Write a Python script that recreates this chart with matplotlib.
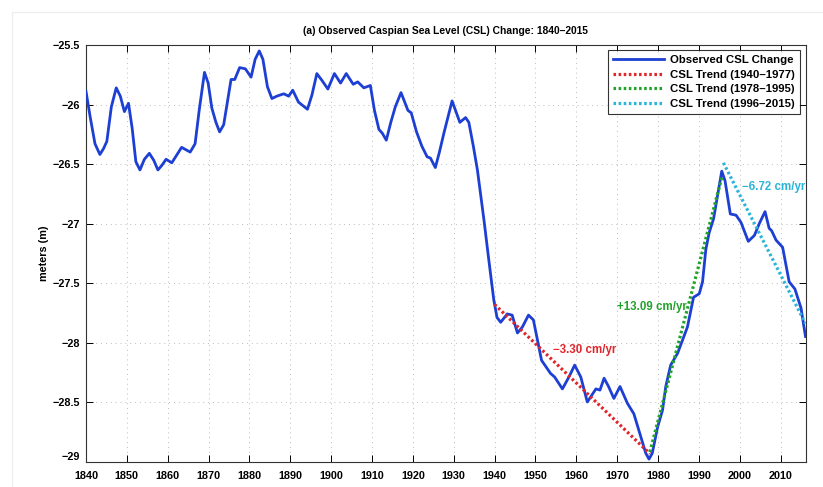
import matplotlib
matplotlib.use("Agg")
import matplotlib.pyplot as plt
import numpy as np
from matplotlib.lines import Line2D
import matplotlib.transforms as mtransforms

FONT = ["Liberation Sans", "DejaVu Sans"]
plt.rcParams["font.family"] = FONT
plt.rcParams["font.weight"] = "bold"

# Observed Caspian Sea level (m)
years = [1840.0, 1841.0, 1842.2, 1843.4, 1844.3, 1845.1, 1846.2, 1847.4, 1848.4, 1849.4,
         1850.4, 1851.3, 1852.2, 1853.2, 1854.3, 1855.5, 1856.6, 1857.6, 1858.6, 1859.6,
         1861.0, 1862.3, 1863.4, 1865.5, 1866.7, 1867.7, 1869.0, 1869.9, 1870.8, 1871.8,
         1872.7, 1873.7, 1874.6, 1875.5, 1876.4, 1877.6, 1879.0, 1880.4, 1881.4, 1882.4,
         1883.3, 1884.4, 1885.5, 1886.7, 1888.4, 1889.6, 1890.6, 1892.0, 1894.2, 1895.3,
         1896.5, 1897.8, 1899.2, 1900.8, 1902.3, 1903.7, 1905.4, 1906.5, 1908.0, 1909.6,
         1910.6, 1911.7, 1912.5, 1913.5, 1914.6, 1915.7, 1917.1, 1918.8, 1919.6, 1920.9,
         1922.2, 1923.5, 1924.3, 1925.5, 1926.5, 1927.6, 1929.6, 1931.5, 1932.9, 1933.7,
         1934.8, 1935.8, 1937.4, 1938.6, 1939.8, 1940.6, 1941.5, 1943.1, 1944.3, 1945.6,
         1946.8, 1948.3, 1949.5, 1950.5, 1951.5, 1953.7, 1954.7, 1956.6, 1958.2, 1959.6,
         1961.1, 1962.7, 1964.8, 1965.8, 1966.8, 1967.9, 1969.2, 1970.7, 1972.5, 1974.1,
         1975.6, 1977.0, 1977.8, 1978.6, 1979.9, 1981.1, 1981.9, 1983.1, 1984.8, 1987.2,
         1988.7, 1990.1, 1990.9, 1991.7, 1992.5, 1993.6, 1994.6, 1995.6, 1996.4, 1997.7,
         1999.1, 2000.3, 2002.1, 2003.6, 2004.8, 2006.2, 2007.2, 2007.8, 2008.9, 2010.5,
         2012.1, 2013.5, 2015.0, 2016.1]
level = [-25.89, -26.10, -26.33, -26.42, -26.37, -26.31, -26.02, -25.86, -25.93, -26.06,
         -25.99, -26.20, -26.48, -26.55, -26.46, -26.41, -26.47, -26.55, -26.51, -26.46,
         -26.49, -26.42, -26.36, -26.40, -26.33, -26.05, -25.73, -25.82, -26.03, -26.15,
         -26.23, -26.17, -25.98, -25.79, -25.79, -25.69, -25.70, -25.77, -25.62, -25.55,
         -25.62, -25.85, -25.95, -25.93, -25.91, -25.93, -25.88, -25.98, -26.04, -25.92,
         -25.74, -25.80, -25.87, -25.74, -25.82, -25.74, -25.83, -25.81, -25.86, -25.84,
         -26.05, -26.21, -26.24, -26.30, -26.15, -26.02, -25.90, -26.05, -26.07, -26.23,
         -26.35, -26.44, -26.45, -26.53, -26.40, -26.24, -25.97, -26.15, -26.11, -26.15,
         -26.35, -26.55, -26.97, -27.31, -27.64, -27.79, -27.83, -27.76, -27.77, -27.92,
         -27.87, -27.77, -27.81, -27.98, -28.15, -28.26, -28.29, -28.39, -28.29, -28.19,
         -28.29, -28.50, -28.39, -28.40, -28.30, -28.37, -28.47, -28.37, -28.51, -28.60,
         -28.77, -28.93, -28.98, -28.93, -28.71, -28.57, -28.37, -28.19, -28.09, -27.87,
         -27.62, -27.59, -27.49, -27.22, -27.08, -26.96, -26.76, -26.56, -26.64, -26.92,
         -26.93, -26.99, -27.15, -27.10, -27.00, -26.90, -27.04, -27.06, -27.14, -27.20,
         -27.49, -27.55, -27.71, -27.95]

# Linear trends: (start year, end year, level at start, slope in cm/yr)
trend_periods = ["1940\u20131977", "1978\u20131995", "1996\u20132015"]
trend_span = [(1940.0, 1978.0), (1978.0, 1995.6), (1996.0, 2016.1)]
trend_start_level = [-27.68, -28.92, -26.49]
trend_slope_cm = [-3.30, 13.09, -6.72]
trend_labels = ["\u22123.30 cm/yr", "+13.09 cm/yr", "\u22126.72 cm/yr"]
trend_label_pos = [(1954.4, -28.06), (1970.0, -27.70), (2000.6, -26.69)]

ytick_vals = [-29, -28.5, -28, -27.5, -27, -26.5, -26, -25.5]
ytick_text = ["\u221229", "\u221228.5", "\u221228", "\u221227.5", "\u221227",
              "\u221226.5", "\u221226", "\u221225.5"]

blue = "#1d3fd3"
trend_colors = ["#e0262b", "#22a22a", "#29b4d8"]

fig = plt.figure(figsize=(8.23, 4.87), dpi=100)
fig.patch.set_facecolor("white")
ax = fig.add_axes([86 / 823, 1 - 461.5 / 487, (805.5 - 86) / 823, (461.5 - 45) / 487])

# faint page frame
fig.add_artist(Line2D([12 / 823, 1.0], [1 - 12 / 487] * 2, color="#ececec", lw=0.8,
                      transform=fig.transFigure))
fig.add_artist(Line2D([12 / 823] * 2, [0.0, 1 - 12 / 487], color="#ececec", lw=0.8,
                      transform=fig.transFigure))

ax.plot(years, level, color=blue, lw=2.0, solid_joinstyle="round", zorder=3,
        label="Observed CSL Change")

for (y0, y1), l0, s, c, per in zip(trend_span, trend_start_level, trend_slope_cm,
                                    trend_colors, trend_periods):
    xs = np.array([y0, y1])
    ys = l0 + s / 100.0 * (xs - y0)
    ax.plot(xs, ys, color=c, lw=2.3, linestyle=(0, (0.8, 0.8)), zorder=4,
            label=f"CSL Trend ({per})")

for txt, (tx, ty), c in zip(trend_labels, trend_label_pos, trend_colors):
    ax.text(tx, ty, txt, color=c, fontsize=8.3, fontweight="bold", ha="left",
            va="center", zorder=5)

ax.set_xlim(1840, 2016.1)
ax.set_ylim(-29, -25.5)
ax.set_xticks(np.arange(1840, 2011, 10))
ax.set_yticks(ytick_vals)
ax.set_yticklabels(ytick_text)
ax.tick_params(direction="in", length=5, width=0.7, top=True, right=True,
               labelsize=7.8)
ax.tick_params(axis="x", pad=7)
ax.tick_params(axis="y", pad=4)
for lab in ax.get_xticklabels() + ax.get_yticklabels():
    lab.set_fontweight("bold")
# lift the lowest y label clear of the x labels
ylabs = ax.get_yticklabels()
ylabs[0].set_transform(ylabs[0].get_transform() +
                       mtransforms.ScaledTranslation(0, 6 / 100, fig.dpi_scale_trans))

ax.grid(True, color="#bcbcbc", linestyle=(0, (1, 4)), lw=0.7)
for sp in ax.spines.values():
    sp.set_linewidth(0.8)
    sp.set_color("#333333")

ax.set_ylabel("meters (m)", fontsize=7.8, fontweight="bold", labelpad=3)
ax.set_title("(a) Observed Caspian Sea Level (CSL) Change: 1840\u20132015", fontsize=7.4,
             fontweight="bold", pad=8)

leg = ax.legend(loc="upper right", fontsize=8.2, frameon=True, fancybox=False,
                handlelength=4.4, handletextpad=0.6, borderpad=0.45, labelspacing=0.4,
                borderaxespad=0.45)
leg.get_frame().set_edgecolor("black")
leg.get_frame().set_linewidth(0.8)
for t in leg.get_texts():
    t.set_fontweight("bold")

fig.savefig("out.png", dpi=100, facecolor="white")
